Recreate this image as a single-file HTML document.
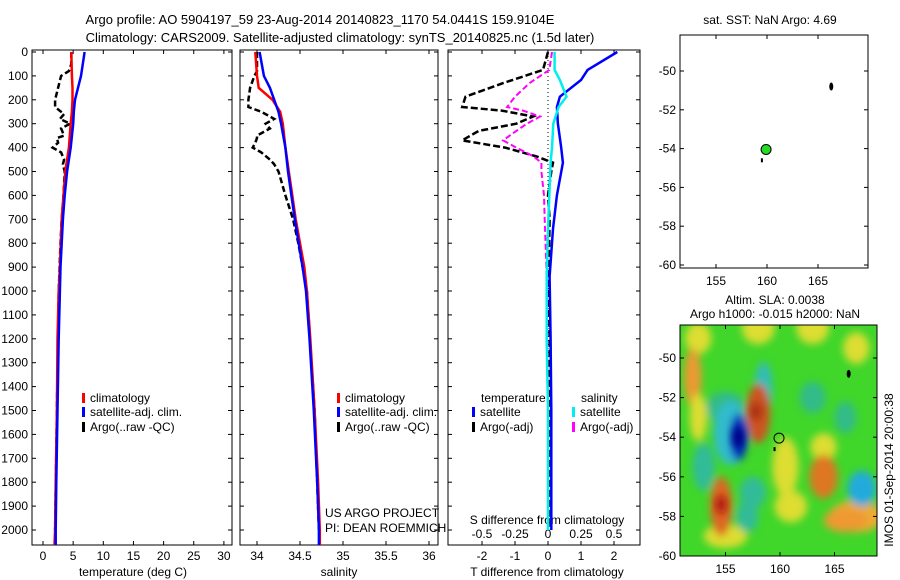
<!DOCTYPE html>
<html><head><meta charset="utf-8"><style>
body{margin:0;background:#fff}
svg{display:block;font-family:"Liberation Sans",sans-serif}
text{font-size:12px;fill:#000}
</style></head><body>
<svg id="c" width="900" height="580" viewBox="0 0 900 580">
<defs>
<filter id="bl" x="-50%" y="-50%" width="200%" height="200%"><feGaussianBlur stdDeviation="4"/></filter>
<clipPath id="m2clip"><rect x="680" y="325" width="197" height="231"/></clipPath>
</defs>
<text x="320" y="24" text-anchor="middle" style="font-size:13px">Argo profile: AO 5904197_59 23-Aug-2014 20140823_1170 54.0441S 159.9104E</text>
<text x="340" y="42" text-anchor="middle" style="font-size:13px">Climatology: CARS2009. Satellite-adjusted climatology: synTS_20140825.nc (1.5d later)</text>
<g id="plots"></g>
</svg>
<script>
// ---- data ----
const depthTicks=[0,100,200,300,400,500,600,700,800,900,1000,1100,1200,1300,1400,1500,1600,1700,1800,1900,2000];
const tempTicks=[0,5,10,15,20,25,30];
const salTicks=[34,34.5,35,35.5,36];
const salTickLabels=["34","34.5","35","35.5","36"];
const tdTicks=[-2,-1,0,1,2];
const sdTicks=[-0.5,-0.25,0,0.25,0.5];
const sdTickLabels=["-0.5","-0.25","0","0.25","0.5"];

const climDepth=[0,100,150,200,250,300,400,500,600,700,900,1000,1200,1500,1800,2000,2065];
const tempClim=[4.7,4.8,4.9,4.9,4.8,4.6,4.3,3.7,3.4,3.1,2.8,2.6,2.4,2.3,2.1,2.0,1.9];
const tempSat=[6.9,6.3,5.8,5.3,5.1,5.0,4.6,4.0,3.6,3.3,2.9,2.8,2.6,2.4,2.2,2.1,2.1];
const salClim=[33.98,34.0,34.02,34.18,34.27,34.3,34.33,34.37,34.41,34.45,34.55,34.58,34.62,34.67,34.71,34.73,34.73];
const salSat=[34.03,34.08,34.15,34.2,34.25,34.28,34.33,34.36,34.4,34.44,34.53,34.57,34.61,34.66,34.7,34.72,34.72];

const argoDepth=[0,50,80,100,150,200,230,250,260,280,300,320,350,360,380,400,420,450,470,500,600,700,800,1000,1500,2000];
const tempArgo=[4.7,4.7,4.3,3.0,2.5,2.0,2.0,3.0,3.5,2.8,4.5,3.0,3.5,2.3,2.5,1.6,3.0,3.5,3.3,3.6,3.4,3.1,2.9,2.6,2.3,2.0];
const salArgo=[34.0,34.0,34.0,33.97,33.92,33.9,33.9,34.05,34.1,34.2,34.1,34.15,34.0,34.0,33.98,33.95,34.05,34.15,34.2,34.25,34.33,34.42,34.48,34.58,34.67,34.72];

const diffDepth=[0,75,117,187,230,300,400,463,600,740,940,1200,1500,2000];
const tDiffSat=[2.1,1.2,1.0,0.36,0.27,0.3,0.4,0.45,0.27,0.15,0.05,0.08,0.1,0.1];
const sDiffSat=[0.05,0.05,0.09,0.14,0.08,0.04,0.03,0.02,0.01,0,-0.01,-0.01,0,0];
const argoDiffDepth=[0,75,130,187,230,245,270,300,330,370,400,437,463,500,600,700,940,1200,1500,2000];
const tDiffArgo=[0,-0.15,-1.36,-2.5,-2.6,-1.4,-0.45,-0.96,-2.1,-2.6,-1.3,-0.35,0.15,0.1,0,0.05,0.02,0.05,0.05,0.08];
const sDiffArgo=[0.03,0.01,-0.14,-0.25,-0.31,-0.19,-0.06,-0.16,-0.24,-0.34,-0.24,-0.11,-0.05,-0.05,-0.03,-0.025,-0.01,-0.01,0,0];

const lonTicks=[155,160,165];
const latTicks=[-50,-52,-54,-56,-58,-60];
const floatLon=[159.9104];
const floatLat=[-54.0441];

// ---- helpers ----
const NS="http://www.w3.org/2000/svg";
const root=document.getElementById('plots');
function el(tag,attrs,parent,txt){const e=document.createElementNS(NS,tag);for(const k in attrs)e.setAttribute(k,attrs[k]);if(txt!==undefined)e.textContent=txt;(parent||root).appendChild(e);return e;}
const Y=d=>52+d*0.239;
const BOT=545;
function pts(xs,ds,fx,fy){return xs.map((v,i)=>fx(v).toFixed(1)+","+Math.min(fy(ds[i]),BOT).toFixed(1)).join(" ");}

function panel(name,x0,x1){
  const g=el('g',{});
  
  
  el('rect',{x:x0,y:50,width:x1-x0,height:BOT-50,fill:'#fff',stroke:'#000','stroke-width':1},g);
  depthTicks.forEach(d=>{const y=Y(d);el('line',{x1:x0,x2:x0+4,y1:y,y2:y,stroke:'#000'},g);el('line',{x1:x1-4,x2:x1,y1:y,y2:y,stroke:'#000'},g);});
  return g;
}
function line(g,name,xs,ds,fx,color,w,dash){
  const p=el('polyline',{points:pts(xs,ds,fx,Y),fill:'none',stroke:color,'stroke-width':w,'stroke-dasharray':dash||'none'},g);
  
  
}
function legendEntry(g,name,x,y,color,label){
  const e=el('g',{},g);
  
  
  el('rect',{x:x,y:y-9,width:3,height:10,fill:color},e);
  el('text',{x:x+8,y:y},e,label);
}
function xTicks(g,fx,vals,labels){
  vals.forEach((v,i)=>{const x=fx(v);el('line',{x1:x,x2:x,y1:50,y2:54,stroke:'#000'},g);el('line',{x1:x,x2:x,y1:BOT-4,y2:BOT,stroke:'#000'},g);el('text',{x:x,y:560,'text-anchor':'middle'},g,labels?labels[i]:v);});
}

// ---- panel 1: temperature ----
const fT=v=>43+v*6.03;
const g1=panel('temperature-panel',32,232);
depthTicks.forEach(d=>{el('text',{x:28,y:Y(d)+4,'text-anchor':'end'},g1,d);});
xTicks(g1,fT,tempTicks);
el('text',{x:133,y:576,'text-anchor':'middle'},g1,'temperature (deg C)');
line(g1,'temp-argo-line',tempArgo,argoDepth,fT,'#000',2.5,'6,3');
line(g1,'temp-climatology-line',tempClim,climDepth,fT,'#f00',2.5);
line(g1,'temp-satellite-line',tempSat,climDepth,fT,'#00f',2.5);
legendEntry(g1,'legend-climatology',82,402,'#f00','climatology');
legendEntry(g1,'legend-satellite',82,416,'#00f','satellite-adj. clim.');
legendEntry(g1,'legend-argo',82,431,'#000','Argo(..raw -QC)');

// ---- panel 2: salinity ----
const fS=v=>257+(v-34)*86;
const g2=panel('salinity-panel',240,438);
xTicks(g2,fS,salTicks,salTickLabels);
el('text',{x:339,y:576,'text-anchor':'middle'},g2,'salinity');
line(g2,'sal-argo-line',salArgo,argoDepth,fS,'#000',2.5,'6,3');
line(g2,'sal-climatology-line',salClim,climDepth,fS,'#f00',2.5);
line(g2,'sal-satellite-line',salSat,climDepth,fS,'#00f',2.5);
legendEntry(g2,'legend-climatology-2',337,402,'#f00','climatology');
legendEntry(g2,'legend-satellite-2',337,416,'#00f','satellite-adj. clim.');
legendEntry(g2,'legend-argo-2',337,431,'#000','Argo(..raw -QC)');
el('text',{x:325,y:517},g2,'US ARGO PROJECT');
el('text',{x:325,y:532},g2,'PI: DEAN ROEMMICH');

// ---- panel 3: differences ----
const fTD=v=>548+v*33;
const fSD=v=>548+v*132;
const g3=panel('difference-panel',448,640);
xTicks(g3,fTD,tdTicks);
sdTicks.forEach((v,i)=>{el('text',{x:fSD(v),y:538,'text-anchor':'middle'},g3,sdTickLabels[i]);});
el('text',{x:547,y:524,'text-anchor':'middle'},g3,'S difference from climatology');
el('text',{x:547,y:576,'text-anchor':'middle'},g3,'T difference from climatology');
el('line',{x1:548,x2:548,y1:52,y2:520,stroke:'#000','stroke-dasharray':'1,3'},g3);
line(g3,'tdiff-argo-line',tDiffArgo,argoDiffDepth,fTD,'#000',2.5,'7,3');
line(g3,'sdiff-argo-line',sDiffArgo,argoDiffDepth,fSD,'#f0f',2,'6,3');
line(g3,'tdiff-satellite-line',tDiffSat,diffDepth,fTD,'#00f',2.5);
line(g3,'sdiff-satellite-line',sDiffSat,diffDepth,fSD,'#0ee',2.5);
el('text',{x:481,y:402},g3,'temperature');
el('text',{x:581,y:402},g3,'salinity');
legendEntry(g3,'legend-t-satellite',472,416,'#00f','satellite');
legendEntry(g3,'legend-t-argo',472,431,'#000','Argo(-adj)');
legendEntry(g3,'legend-s-satellite',572,416,'#0ee','satellite');
legendEntry(g3,'legend-s-argo',572,431,'#f0f','Argo(-adj)');

// ---- map 1: SST ----
const m1x=v=>767+(v-160)*10.2, m1y=v=>71+(-50-v)*19.4;
const gm1=el('g',{});


el('rect',{x:680,y:35,width:188,height:233,fill:'#fff',stroke:'#000'},gm1);
el('text',{x:770,y:24,'text-anchor':'middle'},gm1,'sat. SST: NaN Argo: 4.69');
lonTicks.forEach(v=>{const x=m1x(v);el('line',{x1:x,x2:x,y1:35,y2:39,stroke:'#000'},gm1);el('line',{x1:x,x2:x,y1:264,y2:268,stroke:'#000'},gm1);el('text',{x:x,y:285,'text-anchor':'middle'},gm1,v);});
latTicks.forEach(v=>{const y=m1y(v);el('line',{x1:680,x2:684,y1:y,y2:y,stroke:'#000'},gm1);el('line',{x1:864,x2:868,y1:y,y2:y,stroke:'#000'},gm1);el('text',{x:676,y:y+4,'text-anchor':'end'},gm1,v);});
el('ellipse',{cx:m1x(166.3),cy:m1y(-50.8),rx:2,ry:4,fill:'#000'},gm1);
el('rect',{x:m1x(159.5)-1,y:m1y(-54.5),width:2,height:4,fill:'#000'},gm1);
floatLon.forEach((v,i)=>{const c=el('circle',{cx:m1x(v),cy:m1y(floatLat[i]),r:5,fill:'#2d2',stroke:'#000'},gm1);});

// ---- map 2: SLA ----
const m2x=v=>780+(v-160)*10.9, m2y=v=>358+(-50-v)*19.8;
const gm2=el('g',{});


el('text',{x:775,y:304,'text-anchor':'middle'},gm2,'Altim. SLA: 0.0038');
el('text',{x:775,y:318,'text-anchor':'middle'},gm2,'Argo h1000: -0.015 h2000: NaN');
const hm=el('g',{'clip-path':'url(#m2clip)'},gm2);


el('rect',{x:680,y:325,width:197,height:231,fill:'#40d62a'},hm);
const fb=el('g',{filter:'url(#bl)'},hm);
// blobs: lon, lat, rx(deg), ry(deg), color
const blobLon=[152.5,158,163,167,152,155,163,153,157.5,164,166,161,155,157,158.5,167,164,154.6,166,155.5,156.2,158,167.5,160.5,152.5];
const blobLat=[-49,-48.5,-48.5,-49.5,-51,-52.5,-52,-55.5,-56.8,-54.5,-53,-57.5,-59,-58,-51.5,-58,-56,-57.5,-58.2,-53.8,-54,-52.8,-56.6,-55.5,-53];
const blobRx=[1.2,1.5,1.5,1.2,0.8,1.8,1.2,1,1.2,1.2,1,1.5,2,1,0.8,2.5,1.3,1,2,1.6,0.8,1.1,1.3,1.2,0.8];
const blobRy=[0.8,0.8,0.8,0.8,1.5,0.8,0.8,1.2,0.8,0.7,0.8,0.8,0.6,0.8,1.3,0.8,1.1,1.5,0.6,1.6,1.2,1.5,0.9,1.5,1.2];
const blobCol=['#dd3','#dd3','#dd3','#dd3','#e93','#3b8','#3b8','#3b9','#3b9','#dd3','#3b8','#dd3','#dd3','#3b9','#3bb','#ea3','#d72','#d62','#e93','#3bc','#03b','#c52','#2ad','#dd3','#dd3'];
blobLon.forEach((v,i)=>{el('ellipse',{cx:m2x(v),cy:m2y(blobLat[i]),rx:blobRx[i]*10.9,ry:blobRy[i]*19.8,fill:blobCol[i]},fb);});
el('ellipse',{cx:m2x(156.2),cy:m2y(-54),rx:6,ry:11,fill:'#008',filter:'url(#bl)'},hm);
el('ellipse',{cx:m2x(154.6),cy:m2y(-57.4),rx:5,ry:9,fill:'#a11',filter:'url(#bl)'},hm);
el('ellipse',{cx:m2x(157.8),cy:m2y(-52.7),rx:6,ry:9,fill:'#a31',filter:'url(#bl)'},hm);
el('rect',{x:680,y:325,width:197,height:231,fill:'none',stroke:'#000'},gm2);
lonTicks.forEach(v=>{const x=m2x(v);el('line',{x1:x,x2:x,y1:325,y2:329,stroke:'#000'},gm2);el('line',{x1:x,x2:x,y1:552,y2:556,stroke:'#000'},gm2);el('text',{x:x,y:573,'text-anchor':'middle'},gm2,v);});
latTicks.forEach(v=>{const y=m2y(v);el('line',{x1:680,x2:684,y1:y,y2:y,stroke:'#000'},gm2);el('line',{x1:873,x2:877,y1:y,y2:y,stroke:'#000'},gm2);el('text',{x:676,y:y+4,'text-anchor':'end'},gm2,v);});
el('ellipse',{cx:m2x(166.3),cy:m2y(-50.8),rx:2,ry:4,fill:'#000'},gm2);
el('rect',{x:m2x(159.5)-1,y:m2y(-54.5),width:2,height:4,fill:'#000'},gm2);
floatLon.forEach((v,i)=>{const c=el('circle',{cx:m2x(v),cy:m2y(floatLat[i]),r:5,fill:'none',stroke:'#000'},gm2);});
el('text',{x:893,y:470,'text-anchor':'middle',transform:'rotate(-90 893 470)'},gm2,'IMOS 01-Sep-2014 20:00:38');
</script>
</body></html>
